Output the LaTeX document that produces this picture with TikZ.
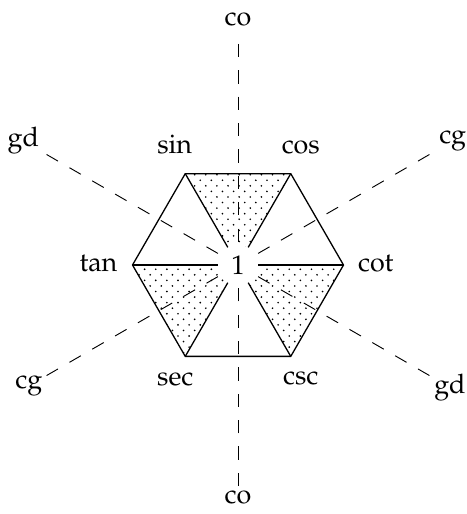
\documentclass[tikz,border=0pt]{standalone}
\usepackage[T1]{fontenc}
\usepackage{mathpazo}
\usepackage{tikz}
\usetikzlibrary{patterns, calc}
\pgfdeclarepatternformonly{sparse dots}{\pgfqpoint{-1pt}{-1pt}}{\pgfqpoint{5pt}{5pt}}{\pgfqpoint{6pt}{6pt}}{%
  \pgfpathcircle{\pgfqpoint{0pt}{0pt}}{.5pt}
  \pgfpathcircle{\pgfqpoint{3pt}{3pt}}{.5pt}
  \pgfusepath{fill}}

\begin{document}
\begin{tikzpicture}[
    font=\fontsize{14.5}{17}\selectfont,
    edge/.style={line width=0.7pt},
    ray/.style={line width=0.5pt, dash pattern=on 0.25cm off 0.25cm},
    dotfill/.style={pattern=sparse dots},
    fname/.style={inner sep=0pt}
  ]
  \useasboundingbox (-4.512,-4.720) rectangle (4.341,5.024);
  % corners of the hexagon
  \coordinate (c) at (0,0);
  \coordinate (sinv) at (120:2);
  \coordinate (cosv) at (60:2);
  \coordinate (cotv) at (0:2);
  \coordinate (cscv) at (-60:2);
  \coordinate (secv) at (-120:2);
  \coordinate (tanv) at (180:2);
  % dotted triangles
  \fill[dotfill] (sinv) -- (cosv) -- (c) -- cycle;
  \fill[dotfill] (tanv) -- (secv) -- (c) -- cycle;
  \fill[dotfill] (cotv) -- (cscv) -- (c) -- cycle;
  \node[circle, fill=white, inner sep=0pt, minimum size=0.76cm] (one) at (c) {1};
  % dashed axes
  \foreach \a/\r/\t in {90/4.66/co, 270/4.40/co, 150/4.70/gd, 330/4.64/gd, 30/4.70/cg, 210/4.58/cg} {
    \coordinate (end\a) at (\a:4.19);
    \node[fname] (lbl\a) at (\a:\r) {\t};
    \draw[ray] (end\a) -- (one);
  }
  \draw[edge] (sinv) -- (cosv) -- (cotv) -- (cscv) -- (secv) -- (tanv) -- cycle;
  \foreach \v in {sinv, cosv, cotv, cscv, secv, tanv}
    \draw[edge] (\v) -- (one);
  % function names
  \node[fname, anchor=base] (sin) at ($(sinv)+(-0.20,0.38)$) {sin};
  \node[fname, anchor=base] (cos) at ($(cosv)+(0.19,0.39)$) {cos};
  \node[fname, anchor=base east] (tan) at ($(tanv)+(-0.28,-0.12)$) {tan};
  \node[fname, anchor=base west] (cot) at ($(cotv)+(0.27,-0.12)$) {cot};
  \node[fname, anchor=base] (sec) at ($(secv)+(-0.19,-0.55)$) {sec};
  \node[fname, anchor=base] (csc) at ($(cscv)+(0.19,-0.53)$) {csc};
\end{tikzpicture}
\end{document}
